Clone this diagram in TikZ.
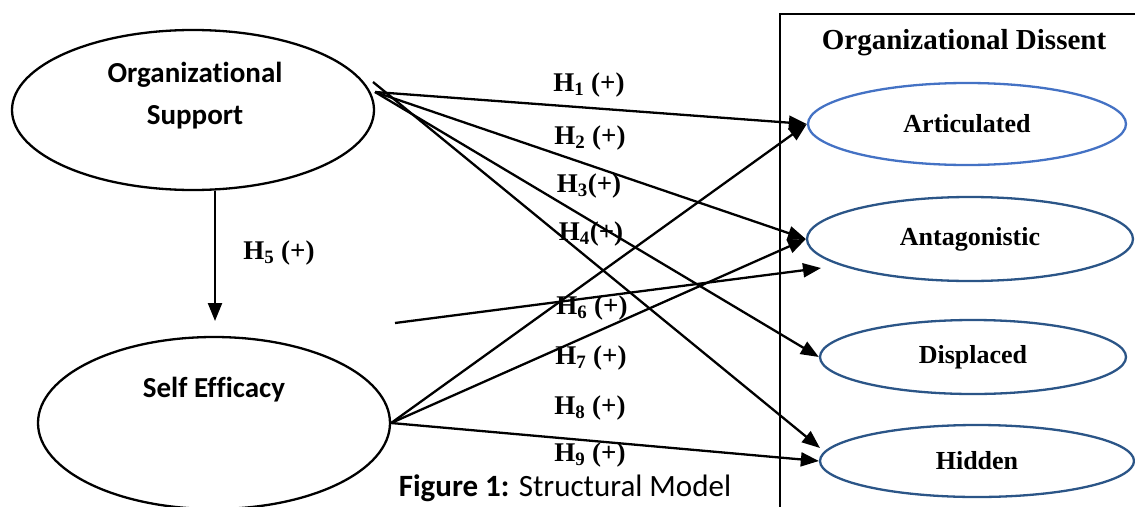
\documentclass[tikz,border=0pt]{standalone}
\usepackage{fontspec}
\setmainfont{Liberation Serif}
\newfontfamily\calibri[Ligatures=NoCommon]{Carlito}
\usetikzlibrary{shapes.geometric,arrows.meta}
\definecolor{lightblue}{HTML}{4472C4}
\definecolor{darkblue}{HTML}{2B5587}
\tikzset{
  outline/.style={ellipse, draw, line width=2.3pt, inner sep=0pt},
  sanslabel/.style={font=\calibri\bfseries\fontsize{29}{36}\selectfont, align=center, inner sep=0pt},
  dissent/.style={ellipse, draw=darkblue, line width=2.3pt, inner sep=0pt, font=\bfseries\fontsize{26}{30}\selectfont},
  hyp/.style={font=\bfseries\fontsize{27}{30}\selectfont, inner sep=0pt},
  link/.style={line width=2.3pt, -{Triangle[length=18pt,width=14pt]}},
}
\begin{document}
\begin{tikzpicture}[x=1pt,y=-1pt]
\useasboundingbox (0,0) rectangle (1135,506);
% left constructs
\node[outline, minimum width=362pt, minimum height=160pt] (os) at (193,110) {};
\node[sanslabel] (ostext) at (195,96) {Organizational\\[6pt]Support};
\node[outline, minimum width=352pt, minimum height=172pt] (se) at (214,423) {};
\node[sanslabel] (setext) at (214,390) {Self Efficacy};
% dissent frame
\draw[line width=2.3pt] (780,507) -- (780,14) -- (1136,14);
\node[font=\bfseries\fontsize{29}{30}\selectfont, inner sep=0pt] (title) at (964,43) {Organizational Dissent};
\node[dissent, draw=lightblue, minimum width=318pt, minimum height=82pt] (art) at (967,124) {Articulated};
\node[dissent, minimum width=326pt, minimum height=84pt] (ant) at (970,239) {Antagonistic};
\node[dissent, minimum width=306pt, minimum height=74pt] (dis) at (973,357) {Displaced};
\node[dissent, minimum width=314pt, minimum height=72pt] (hid) at (977,461) {Hidden};
% connector end points
\coordinate (osA) at (375,92);
\coordinate (osB) at (373,82);
\coordinate (h5end) at (215,321);
\coordinate (hidtop) at (820,448);
\coordinate (freeA) at (395,323);
\coordinate (freeB) at (821,268);
% arrows
\draw[link] (os.south -| h5end) -- (h5end);
\draw[link] (osA) -- (art.west);
\draw[link] (osA) -- (ant.west);
\draw[link] (osA) -- (dis.west);
\draw[link] (osB) -- (hidtop);
\draw[link] (se.east) -- (art.west);
\draw[link] (se.east) -- (ant.west);
\draw[link] (se.east) -- (hid.west);
\draw[link] (freeA) -- (freeB);
% hypothesis labels
\node[hyp] (h1) at (589,85) {H\textsubscript{1} (+)};
\node[hyp] (h2) at (590,138) {H\textsubscript{2} (+)};
\node[hyp] (h3) at (589,186) {H\textsubscript{3}(+)};
\node[hyp] (h4) at (591,234) {H\textsubscript{4}(+)};
\node[hyp] (h5) at (279,253) {H\textsubscript{5} (+)};
\node[hyp] (h6) at (592,308) {H\textsubscript{6} (+)};
\node[hyp] (h7) at (591,358) {H\textsubscript{7} (+)};
\node[hyp] (h8) at (590,408) {H\textsubscript{8} (+)};
\node[hyp] (h9) at (590,455) {H\textsubscript{9} (+)};
% caption
\node[font=\calibri\fontsize{31}{32}\selectfont, inner sep=0pt] (cap) at (565,488) {\textbf{Figure 1:} Structural Model};
\end{tikzpicture}
\end{document}
